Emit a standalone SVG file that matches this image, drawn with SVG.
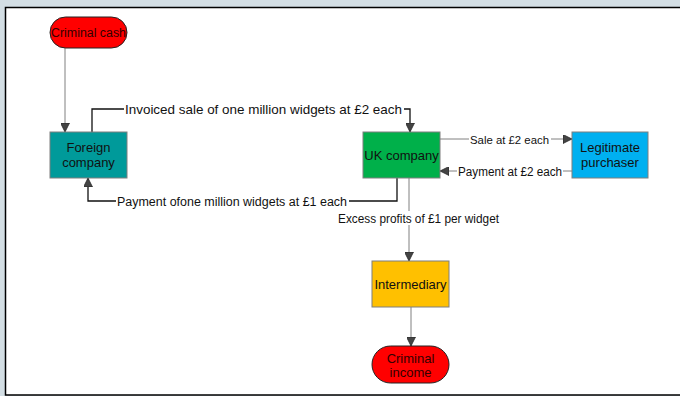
<svg xmlns="http://www.w3.org/2000/svg" width="680" height="396" viewBox="0 0 680 396">
<defs>
<style>
text{font-family:"Liberation Sans",Arial,sans-serif;font-size:13px;fill:#111}
.node text{text-anchor:middle}
.lbl{text-anchor:middle;font-size:12px}
.bg{fill:#fff}
.box{stroke:#7f7f7f;stroke-width:1}
.pill{fill:#ff0000;stroke:#222;stroke-width:1}
.g{fill:none;stroke:#808080;stroke-width:1}
.b{fill:none;stroke:#111;stroke-width:1.3}
</style>
<marker id="ah" viewBox="0 0 10 10" refX="10" refY="5" markerWidth="9" markerHeight="9" markerUnits="userSpaceOnUse" orient="auto">
<path d="M0,0 L10,5 L0,10 Z" fill="#444" stroke="#222" stroke-width="0.8"/>
</marker>
</defs>
<rect x="0" y="0" width="680" height="396" fill="#d3dee4"/>
<rect x="5.5" y="7.5" width="690" height="387.5" fill="#fff" stroke="#000" stroke-width="1.5"/>
<g id="connectors">
<path class="g" d="M65,48 V132" marker-end="url(#ah)"/>
<path class="b" d="M92,132 V109 H410 V132" marker-end="url(#ah)"/>
<rect class="bg" x="124" y="102" width="280" height="14"/>
<text class="lbl" x="263.5" y="114" style="font-size:13px" textLength="277" lengthAdjust="spacingAndGlyphs">Invoiced sale of one million widgets at £2 each</text>
<path class="b" d="M397,178 V201 H88 V178" marker-end="url(#ah)"/>
<rect class="bg" x="116" y="194" width="233" height="14"/>
<text class="lbl" x="232" y="206" style="font-size:12.5px" textLength="230" lengthAdjust="spacingAndGlyphs">Payment ofone million widgets at £1 each</text>
<path class="g" d="M409,178 V261" marker-end="url(#ah)"/>
<rect class="bg" x="337" y="211" width="164" height="14"/>
<text class="lbl" x="418.5" y="223" textLength="161" lengthAdjust="spacingAndGlyphs">Excess profits of £1 per widget</text>
<path class="g" d="M440,139 H572" marker-end="url(#ah)"/>
<rect class="bg" x="469" y="132" width="82" height="14"/>
<text class="lbl" x="509.5" y="144" style="font-size:11.5px" textLength="79" lengthAdjust="spacingAndGlyphs">Sale at £2 each</text>
<path class="g" d="M572,171 H440" marker-end="url(#ah)"/>
<rect class="bg" x="457" y="164" width="106" height="14"/>
<text class="lbl" x="510" y="176" textLength="104" lengthAdjust="spacingAndGlyphs">Payment at £2 each</text>
<path class="g" d="M411,307 V346" marker-end="url(#ah)"/>
</g>
<g id="criminal-cash" class="node">
<rect class="pill" x="50" y="17" width="77" height="31" rx="15.5"/>
<text x="88.5" y="37" style="fill:#300;font-size:12.5px" textLength="75" lengthAdjust="spacingAndGlyphs">Criminal cash</text>
</g>
<g id="foreign-company" class="node">
<rect class="box" x="50" y="132" width="77" height="46" fill="#009a9a"/>
<text x="88.5" y="152">Foreign</text>
<text x="88.5" y="167">company</text>
</g>
<g id="uk-company" class="node">
<rect class="box" x="363" y="132" width="77" height="46" fill="#00b04a"/>
<text x="401.5" y="160">UK company</text>
</g>
<g id="legitimate-purchaser" class="node">
<rect class="box" x="572" y="132" width="76" height="46" fill="#00b0f0"/>
<text x="610" y="152">Legitimate</text>
<text x="610" y="167">purchaser</text>
</g>
<g id="intermediary" class="node">
<rect class="box" x="372" y="261" width="77" height="46" fill="#ffc000"/>
<text x="410.5" y="289">Intermediary</text>
</g>
<g id="criminal-income" class="node">
<rect class="pill" x="372" y="346" width="77" height="37" rx="18.5"/>
<text x="410.5" y="363" style="fill:#300">Criminal</text>
<text x="410.5" y="377" style="fill:#300">income</text>
</g>
</svg>
